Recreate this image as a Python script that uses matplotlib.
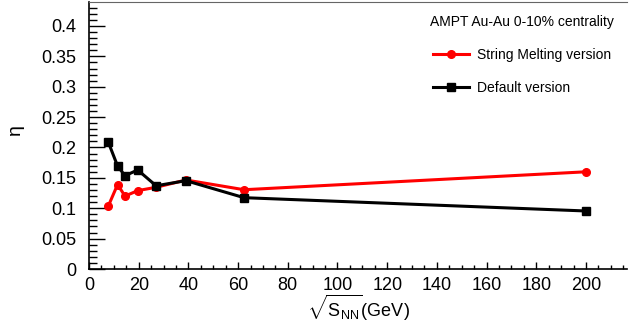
import numpy as np
import matplotlib
matplotlib.use('Agg')
import matplotlib.pyplot as plt
from matplotlib.ticker import MultipleLocator

plt.rcParams['font.family'] = ['Liberation Sans', 'DejaVu Sans']
plt.rcParams['mathtext.fontset'] = 'custom'
plt.rcParams['mathtext.rm'] = 'Liberation Sans'
plt.rcParams['mathtext.it'] = 'Liberation Sans:italic'

# Данные: энергия столкновения и eta
energy = [7.7, 11.5, 14.5, 19.6, 27, 39, 62.4, 200]
eta_sm = [0.103, 0.139, 0.120, 0.129, 0.1345, 0.1465, 0.1305, 0.160]
eta_def = [0.2095, 0.1695, 0.1536, 0.163, 0.137, 0.1454, 0.1174, 0.0955]

title_text = 'AMPT Au-Au 0-10% centrality'
label_sm = 'String Melting version'
label_def = 'Default version'

fig = plt.figure(figsize=(6.29, 3.30), dpi=100)
ax = fig.add_axes([89/629, 61/330, 538/629, 267/330])

ax.plot(energy, eta_sm, color='red', lw=2.2, marker='o', ms=5.5, label=label_sm)
ax.plot(energy, eta_def, color='black', lw=2.2, marker='s', ms=5.5, label=label_def)

ax.set_xlim(0, 216.5)
ax.set_ylim(0, 0.4395)

ax.xaxis.set_major_locator(MultipleLocator(20))
ax.xaxis.set_minor_locator(MultipleLocator(5))
ax.yaxis.set_major_locator(MultipleLocator(0.05))
ax.yaxis.set_minor_locator(MultipleLocator(0.01))
ax.set_xticks(np.arange(0, 201, 20))
ax.set_yticks(np.arange(0, 0.41, 0.05))
ax.set_yticklabels(['0', '0.05', '0.1', '0.15', '0.2', '0.25', '0.3', '0.35', '0.4'])

ax.tick_params(axis='both', which='both', direction='in', labelsize=13, width=1)
ax.tick_params(axis='y', which='major', length=11.5, pad=9)
ax.tick_params(axis='y', which='minor', length=5.8)
ax.tick_params(axis='x', which='major', length=5, pad=6)
ax.tick_params(axis='x', which='minor', length=2.6)

ax.spines['right'].set_visible(False)
ax.spines['top'].set_color('#666666')
ax.spines['left'].set_linewidth(1.2)
ax.spines['bottom'].set_linewidth(1.2)

fig.text(15/629, 1 - 130/330, 'η', fontsize=14, rotation=90, ha='center', va='center')
ax.set_xlabel(r'$\sqrt{\mathrm{S}_{\mathrm{NN}}}$(GeV)', fontsize=13, labelpad=-1)

fig.text(430/629, 1 - 22/330, title_text, fontsize=10, ha='left', va='center')
leg = ax.legend(loc='upper left', bbox_to_anchor=(433/629, 1 - 48/330),
                bbox_transform=fig.transFigure, frameon=False, borderpad=0,
                borderaxespad=0, fontsize=10, handlelength=2.6,
                labelspacing=1.35, handletextpad=0.55)

fig.savefig('out.png', dpi=100)
